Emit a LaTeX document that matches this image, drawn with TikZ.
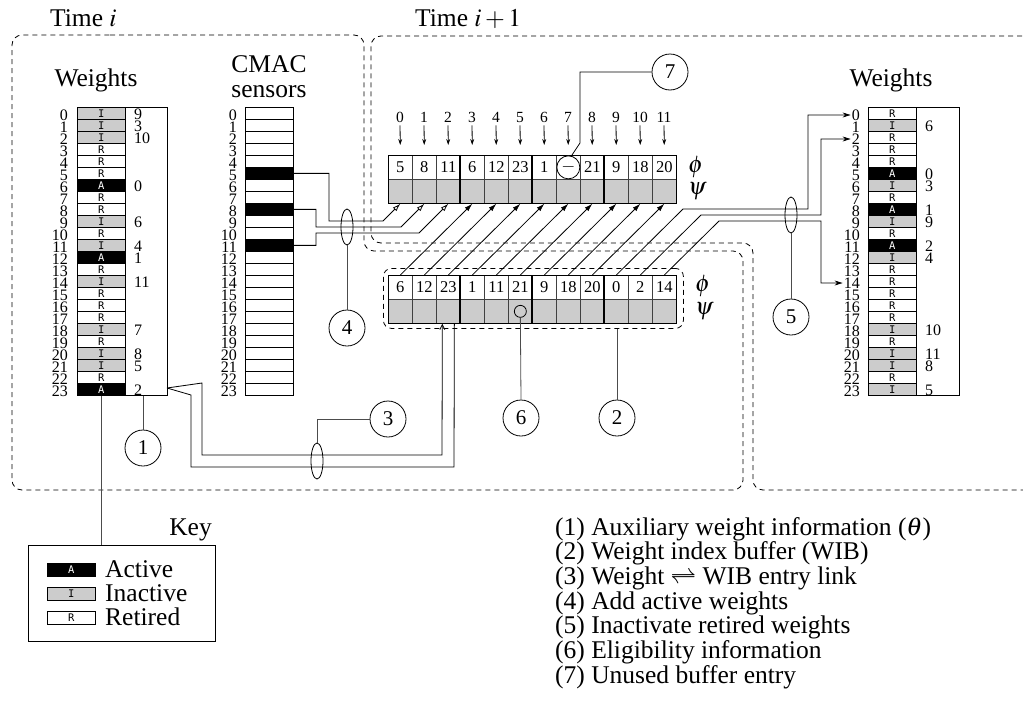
\documentclass[tikz,border=0pt]{standalone}
\usepackage{mathptmx}
\usepackage[no-math]{fontspec}
\setmainfont{Liberation Serif}
\newfontfamily\statfont{DejaVu Sans Mono}
\usetikzlibrary{arrows.meta,shapes.geometric}
\tikzset{
  region/.style={dash pattern=on 5pt off 4pt, line width=0.8pt, rounded corners=10pt},
  wcell/.style={draw, line width=0.7pt, minimum width=48pt, minimum height=12pt, inner sep=0pt, anchor=north west, font=\statfont\fontsize{10.5}{10.5}\selectfont},
  stA/.style={wcell, fill=black, text=white},
  stI/.style={wcell, fill=black!20},
  stR/.style={wcell, fill=white},
  cmW/.style={wcell, fill=white},
  cmB/.style={wcell, fill=black},
  thbox/.style={draw, line width=0.7pt, minimum width=42pt, minimum height=288pt, inner sep=0pt, anchor=north west},
  idx/.style={anchor=east, inner sep=0pt, font=\fontsize{16}{16}\selectfont},
  thv/.style={anchor=west, inner sep=0pt, font=\fontsize{16}{16}\selectfont},
  big/.style={inner sep=0pt, font=\fontsize{25.5}{25.5}\selectfont},
  phicell/.style={draw=black!75, line width=0.7pt, fill=white, minimum width=24pt, minimum height=24pt, inner sep=0pt, anchor=north west, font=\fontsize{16.5}{16.5}\selectfont},
  psicell/.style={phicell, fill=black!20},
  topidx/.style={inner sep=0pt, font=\fontsize{15.5}{15.5}\selectfont},
  greek/.style={anchor=west, inner sep=0pt, font=\fontsize{24}{24}\selectfont},
  numc/.style={circle, draw, line width=0.8pt, fill=white, minimum size=36pt, inner sep=0pt, font=\fontsize{21}{21}\selectfont},
  ell/.style={ellipse, draw, line width=0.8pt, minimum width=12pt, minimum height=36pt, inner sep=0pt},
  callout/.style={draw=black!70, line width=0.8pt},
  wire/.style={line width=0.8pt},
  fillarrow/.style={wire, -{Latex[length=8pt,width=5pt]}},
  openarrow/.style={wire, -{Latex[open,length=8pt,width=5pt]}},
  sidearrow/.style={wire, -{Stealth[length=8pt,width=5pt]}},
  downarrow/.style={wire, -{Stealth[length=6pt,width=4pt]}},
  sepline/.style={line width=2pt},
}
\begin{document}
\begin{tikzpicture}[x=1pt,y=-1pt]
\useasboundingbox (0,0) rectangle (1023,723);

% ---------- regions ----------
\draw[region] (100,35) -- (364,35) -- (364,251) -- (743,251) -- (743,490) -- (12,490) -- (12,35) -- cycle;
\draw[region] (1040,36) -- (371,36) -- (371,243) -- (753,243) -- (753,490) -- (1040,490);

% ---------- titles ----------
\node[big, anchor=base west] (ti) at (50,26) {Time $i$};
\node[big, anchor=base west] (ti1) at (415,26) {Time $i+1$};
\node[big, anchor=base] (wl) at (96,86) {Weights};
\node[big, anchor=base] (cmt1) at (269,72) {CMAC};
\node[big, anchor=base] (cmt2) at (269,97) {sensors};
\node[big, anchor=base] (wr) at (891,86) {Weights};

% ---------- left weights (time i) ----------
\node[thbox] (lth) at (125,107) {};
\foreach \s [count=\n from 0] in {I,I,I,R,R,R,A,R,R,I,R,I,A,R,I,R,R,R,I,R,I,I,R,A}
  \node[st\s] (lw\n) at (77,107+12*\n) {\s};
\foreach \n in {0,...,23}
  \node[idx] (lwl\n) at (68,115+12*\n) {\n};
\foreach \r/\v in {0/9,1/3,2/10,6/0,9/6,11/4,12/1,14/11,18/7,20/8,21/5,23/2}
  \node[thv] (lwt\r) at (134,114+12*\r) {\v};

% ---------- CMAC sensors ----------
\foreach \s [count=\n from 0] in {W,W,W,W,W,B,W,W,B,W,W,B,W,W,W,W,W,W,W,W,W,W,W,W}
  \node[cm\s] (cm\n) at (245,107+12*\n) {};
\foreach \n in {0,...,23}
  \node[idx] (cml\n) at (237,115+12*\n) {\n};

% ---------- right weights (time i+1) ----------
\node[thbox, minimum width=43pt] (rth) at (916,107) {};
\foreach \s [count=\n from 0] in {R,I,R,R,R,A,I,R,A,I,R,A,I,R,R,R,R,R,I,R,I,I,R,I}
  \node[st\s] (rw\n) at (868,107+12*\n) {\s};
\foreach \n in {0,...,23}
  \node[idx] (rwl\n) at (860,115+12*\n) {\n};
\foreach \r/\v in {1/6,5/0,6/3,8/1,9/9,11/2,12/4,18/10,20/11,21/8,23/5}
  \node[thv] (rwt\r) at (925,114+12*\r) {\v};

% ---------- top buffer (time i+1) ----------
\foreach \v [count=\n from 0] in {5,8,11,6,12,23,1,{},21,9,18,20} {
  \node[phicell] (tp\n) at (388+24*\n,155) {\v};
  \node[psicell] (ts\n) at (388+24*\n,179) {};
  \node[topidx] (tix\n) at (400+24*\n,117) {\n};
  \draw[downarrow, shorten <=3pt, shorten >=10pt] (tix\n.south) -- (tp\n.north);
}
\draw[line width=0.9pt] (tp0.north west) rectangle (ts11.south east);
\foreach \n in {3,6,9}
  \draw[sepline] (tp\n.north west) -- (ts\n.south west);
\node[circle, draw, line width=0.8pt, fill=white, minimum size=23pt, inner sep=0pt, font=\fontsize{18}{18}\selectfont] (um) at (tp7.center) {$-$};
\node[greek] (tphi) at (688,167) {$\phi$};
\node[greek] (tpsi) at (688,191) {$\psi$};

% ---------- lower buffer (WIB, time i) ----------
\node[draw, dash pattern=on 5pt off 4pt, line width=0.8pt, rounded corners=8pt, minimum width=300pt, minimum height=60pt, inner sep=0pt, anchor=north west] (wib) at (383,268) {};
\foreach \v [count=\n from 0] in {6,12,23,1,11,21,9,18,20,0,2,14} {
  \node[phicell] (lp\n) at (388+24*\n,275) {\v};
  \node[psicell] (ls\n) at (388+24*\n,299) {};
}
\draw[line width=0.9pt] (lp0.north west) rectangle (ls11.south east);
\foreach \n in {3,6,9}
  \draw[sepline] (lp\n.north west) -- (ls\n.south west);
\node[greek] (lphi) at (695,286) {$\phi$};
\node[greek] (lpsi) at (695,311) {$\psi$};
\node[circle, draw, line width=0.8pt, minimum size=12pt, inner sep=0pt] (elig) at (ls5.center) {};

% ---------- WIB -> new buffer ----------
\foreach \n [evaluate=\n as \m using int(\n+3)] in {0,...,8}
  \draw[fillarrow] (lp\n.north) -- (ts\m.south);

% ---------- add active weights ----------
\draw[openarrow] (cm5.east) -| (329,221) -- (383,221) -- (ts0.south);
\draw[openarrow] (cm8.east) -| (316,227) -- (401,227) -- (ts1.south);
\draw[openarrow] (cm11.east) -| (316,233) -- (419,233) -- (ts2.south);
\node[ell] (e4) at (347,227) {};

% ---------- inactivate retired weights ----------
\draw[sidearrow, shorten >=1pt] (lp9.north) -- (683,209) -- (808,209) |- (rwl0.west);
\draw[sidearrow, shorten >=1pt] (lp10.north) -- (701,215) -- (821,215) |- (rwl2.west);
\draw[sidearrow, shorten >=1pt] (lp11.north) -- (719,221) -- (821,221) |- (rwl14.west);
\node[ell] (e5) at (791,215) {};

% ---------- weight <-> WIB entry link ----------
\coordinate (tip) at (167,388);
\draw[wire, -{Straight Barb[length=5pt,width=5pt]}] (tip) -- (202,383) -- (202,455) -- (442,455) -- ([xshift=-6pt]ls2.south);
\draw[wire] ([xshift=6pt]ls2.south) -- (454,467) -- (191,467) -- (191,395) -- (tip);
\node[ell] (e3) at (317,461) {};

% ---------- numbered callouts ----------
\node[numc] (c1) at (143,448) {1};
\node[numc] (c2) at (617,418) {2};
\node[numc] (c3) at (388,419) {3};
\node[numc] (c4) at (347,328) {4};
\node[numc] (c5) at (791,317) {5};
\node[numc] (c6) at (521,418) {6};
\node[numc] (c7) at (670,72) {7};
\draw[callout] (lth.south -| c1) -- (c1.north);
\draw[callout] (wib.south -| c2) -- (c2.north);
\draw[callout] (e3.north) |- (c3.west);
\draw[callout] (e4.south) -- (c4.north);
\draw[callout] (e5.south) -- (c5.north);
\draw[callout] (elig.south) -- (c6.north);
\draw[wire] (c7.west) -| (580,143) -- (um.75);

% ---------- key ----------
\node[draw, line width=0.8pt, minimum width=187pt, minimum height=96pt, inner sep=0pt, anchor=north west] (key) at (28,545) {};
\draw[callout] (lw23.south) -- (key.north -| lw23.south);
\node[big, anchor=base east] (keyt) at (212,535) {Key};
\node[stA, minimum height=13pt] (kA) at (47,563) {A};
\node[stI, minimum height=13pt] (kI) at (47,587) {I};
\node[stR, minimum height=13pt] (kR) at (47,611) {R};
\node[big, anchor=west] (kAt) at (105,569) {Active};
\node[big, anchor=west] (kIt) at (105,593) {Inactive};
\node[big, anchor=west] (kRt) at (105,617) {Retired};

% ---------- legend ----------
\node[big, anchor=base west] (lg1) at (555,535) {(1) Auxiliary weight information ($\theta$)};
\node[big, anchor=base west] (lg2) at (555,559.7) {(2) Weight index buffer (WIB)};
\node[big, anchor=base west] (lg3) at (555,584.4) {(3) Weight $\rightleftharpoons$ WIB entry link};
\node[big, anchor=base west] (lg4) at (555,609.1) {(4) Add active weights};
\node[big, anchor=base west] (lg5) at (555,633.8) {(5) Inactivate retired weights};
\node[big, anchor=base west] (lg6) at (555,658.5) {(6) Eligibility information};
\node[big, anchor=base west] (lg7) at (555,683.2) {(7) Unused buffer entry};
\end{tikzpicture}
\end{document}
